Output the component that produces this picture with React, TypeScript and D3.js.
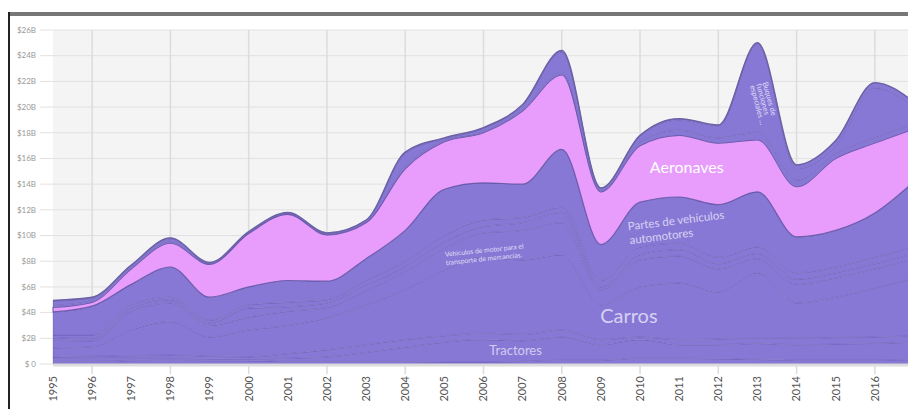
import React from "react";
import * as d3 from "d3";

// exportaciones de transporte, miles de millones de USD
const years = [1995, 1996, 1997, 1998, 1999, 2000, 2001, 2002, 2003, 2004, 2005, 2006, 2007, 2008, 2009, 2010, 2011, 2012, 2013, 2014, 2015, 2016, 2017];

const otrosVehiculos = [0.2, 0.2, 0.25, 0.3, 0.25, 0.25, 0.2, 0.2, 0.2, 0.2, 0.15, 0.15, 0.2, 0.3, 0.3, 0.45, 0.45, 0.4, 0.35, 0.3, 0.3, 0.3, 0.35];
const tractores = [0.25, 0.25, 0.2, 0.15, 0.15, 0.15, 0.25, 0.35, 0.7, 1.1, 1.55, 1.75, 1.6, 1.8, 1.2, 1.45, 1.05, 1.1, 1.25, 1.2, 1.25, 1.3, 1.35];
const remolques = [0.1, 0.15, 0.2, 0.25, 0.2, 0.15, 0.35, 0.55, 0.6, 0.6, 0.5, 0.5, 0.5, 0.55, 0.4, 0.2, 0.4, 0.45, 0.4, 0.5, 0.5, 0.5, 0.5];
const carros = [0.7, 0.75, 2.0, 2.6, 1.5, 2.1, 2.2, 2.5, 3.1, 3.9, 5.1, 5.9, 5.8, 5.85, 2.7, 3.9, 4.4, 3.65, 5.1, 2.75, 3.15, 3.8, 4.5];
const vehiculosMercancias = [0.6, 0.45, 1.45, 1.45, 0.9, 1.0, 1.1, 0.8, 1.1, 1.4, 1.7, 1.9, 2.3, 2.5, 1.15, 2.1, 2.1, 1.8, 1.1, 1.45, 1.5, 1.5, 1.5];
const autobuses = [0.2, 0.2, 0.25, 0.25, 0.2, 0.7, 0.35, 0.35, 0.4, 0.4, 0.5, 0.5, 0.6, 0.8, 0.25, 0.4, 0.5, 0.4, 0.4, 0.4, 0.4, 0.4, 0.4];
const chasis = [0.2, 0.25, 0.25, 0.2, 0.2, 0.25, 0.35, 0.25, 0.4, 0.4, 0.5, 0.5, 0.4, 0.4, 0.5, 0.6, 0.5, 0.5, 0.5, 0.5, 0.45, 0.5, 0.5];
const partes = [1.8, 2.25, 1.6, 2.35, 1.8, 1.4, 1.7, 1.45, 1.7, 2.4, 3.6, 2.9, 2.6, 4.5, 2.8, 3.5, 3.6, 4.1, 4.3, 2.8, 2.85, 3.45, 5.1];
const aeronaves = [0.35, 0.3, 1.2, 1.85, 2.55, 4.15, 5.15, 3.6, 2.8, 4.8, 3.7, 3.9, 5.7, 5.8, 4.1, 4.4, 4.8, 4.8, 4.05, 3.9, 5.6, 5.45, 4.1];
const helicopteros = [0.15, 0.15, 0.1, 0.15, 0.05, 0.05, 0.05, 0.05, 0.05, 0.2, 0.1, 0.1, 0.15, 0.2, 0.1, 0.3, 0.4, 0.4, 0.6, 0.5, 0.4, 0.4, 0.4];
const buques = [0.35, 0.2, 0.15, 0.2, 0.05, 0.05, 0.05, 0.05, 0.1, 1.0, 0.15, 0.25, 0.3, 1.6, 0.15, 0.45, 0.8, 0.9, 6.85, 0.9, 0.6, 3.9, 1.3];
const plataformas = [0.05, 0.05, 0.05, 0.05, 0.05, 0.05, 0.05, 0.05, 0.05, 0.1, 0.05, 0.05, 0.05, 0.1, 0.05, 0.05, 0.1, 0.1, 0.1, 0.3, 0.4, 0.4, 0.4];

const series: [string, number[]][] = [
  ["otrosVehiculos", otrosVehiculos],
  ["tractores", tractores],
  ["remolques", remolques],
  ["carros", carros],
  ["vehiculosMercancias", vehiculosMercancias],
  ["autobuses", autobuses],
  ["chasis", chasis],
  ["partes", partes],
  ["aeronaves", aeronaves],
  ["helicopteros", helicopteros],
  ["buques", buques],
  ["plataformas", plataformas],
];

const yTicks = [0, 2, 4, 6, 8, 10, 12, 14, 16, 18, 20, 22, 24, 26];

const PURPLE = "#8878d5";
const PINK = "#e89dfc";
const FONT = "Lato, sans-serif";

export default function App() {
  const width = 908;
  const height = 409;

  const x = d3.scaleLinear().domain([1995, 2017]).range([53, 914]);
  const y = d3.scaleLinear().domain([0, 26]).range([364, 30]);

  const rows = years.map((year, i) => {
    const r: any = { year };
    series.forEach(([k, v]) => (r[k] = v[i]));
    return r;
  });
  const keys = series.map((s) => s[0]);
  const stacked = d3.stack().keys(keys)(rows);

  const area = d3
    .area<any>()
    .x((d) => x(d.data.year))
    .y0((d) => y(d[0]))
    .y1((d) => y(d[1]))
    .curve(d3.curveMonotoneX);

  const topLine = d3
    .line<any>()
    .x((d) => x(d.data.year))
    .y((d) => y(d[1]))
    .curve(d3.curveMonotoneX);

  const top = stacked[stacked.length - 1];

  return (
    <svg
      width={width}
      height={height}
      style={{ position: "absolute", left: 0, top: 0, background: "#fff", fontFamily: FONT }}
    >
      {/* marco */}
      <rect x={8} y={12} width={900} height={4} fill="#777" />
      <rect x={8} y={12} width={2} height={397} fill="#222" />

      {/* fondo y rejilla */}
      <rect x={53} y={y(26)} width={width - 53} height={y(0) - y(26)} fill="#f4f4f4" />
      {yTicks.map((t) => (
        <g key={t}>
          <line x1={40} x2={width} y1={y(t)} y2={y(t)} stroke="#e1e1e1" strokeWidth={1} />
          <text x={36} y={y(t)} dy="0.35em" textAnchor="end" fontSize={8} fill="#999">
            {t === 0 ? "$ 0" : `$${t}B`}
          </text>
        </g>
      ))}
      {years
        .filter((yr) => yr % 2 === 0)
        .map((yr) => (
          <line key={yr} x1={x(yr)} x2={x(yr)} y1={y(26)} y2={374} stroke="#dcdcdc" strokeWidth={1.5} />
        ))}

      {/* capas */}
      {stacked.map((s) => (
        <path
          key={s.key}
          d={area(s as any) || ""}
          fill={s.key === "aeronaves" ? PINK : PURPLE}
          stroke={s.key === "aeronaves" ? "rgba(95,82,160,0.85)" : "rgba(70,60,140,0.28)"}
          strokeWidth={s.key === "aeronaves" ? 1.2 : 0.8}
        />
      ))}
      <path d={topLine(top as any) || ""} fill="none" stroke="#6c62a6" strokeWidth={1.5} />

      {/* eje x */}
      <line x1={53} x2={width} y1={365} y2={365} stroke="#dcdcdc" strokeWidth={3} />
      {years.map((yr) => (
        <text
          key={yr}
          transform={`translate(${x(yr)},376) rotate(-90)`}
          textAnchor="end"
          dy="0.35em"
          fontSize={11}
          fill="#555"
        >
          {yr}
        </text>
      ))}

      {/* etiquetas */}
      <text x={x(2010.25)} y={y(14.87)} fontSize={16} fill="#fff">
        Aeronaves
      </text>
      <text x={x(2008.98)} y={y(3.19)} fontSize={20} fill="rgba(235,232,252,0.8)">
        Carros
      </text>
      <text x={x(2006.15)} y={y(0.7)} fontSize={13} fill="rgba(235,232,252,0.75)">
        Tractores
      </text>
      <g transform={`translate(${x(2009.7)},${y(10.4)}) rotate(-7)`} fontSize={11.5} fill="rgba(235,232,252,0.8)">
        <text x={0} y={0}>Partes de vehículos</text>
        <text x={0} y={14}>automotores</text>
      </g>
      <g transform={`translate(${x(2005.02)},${y(8.35)}) rotate(-6)`} fontSize={6.8} fill="rgba(240,238,255,0.85)">
        <text x={0} y={0}>Vehículos de motor para el</text>
        <text x={0} y={8.5}>transporte de mercancías.</text>
      </g>
      <g transform={`translate(${x(2013.13)},${y(21.9)}) rotate(75)`} fontSize={7.5} fill="rgba(240,238,255,0.85)">
        <text x={0} y={0}>Buques de</text>
        <text x={0} y={6.5}>funciones</text>
        <text x={0} y={13}>especiales ...</text>
      </g>
    </svg>
  );
}
